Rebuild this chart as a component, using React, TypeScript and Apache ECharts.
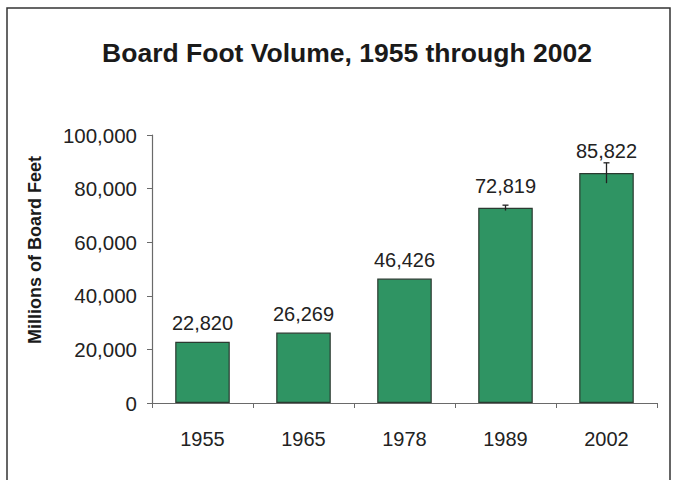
import React, { useEffect, useRef } from "react";
import * as echarts from "echarts";

const years = ["1955", "1965", "1978", "1989", "2002"];
const volumes = [22820, 26269, 46426, 72819, 85822];
const errors = [0, 0, 0, 1000, 3800];
const yTicks = { min: 0, max: 100000, interval: 20000 };
const titleText = "Board Foot Volume, 1955 through 2002";
const yAxisTitle = "Millions of Board Feet";

const FONT = "'Liberation Sans', Arial, sans-serif";

export default function App() {
  const ref = useRef<HTMLDivElement>(null);
  useEffect(() => {
    if (!ref.current) return;
    const chart = echarts.init(ref.current, null, { renderer: "svg" });
    const fmt = (v: number) => v.toLocaleString("en-US");
    chart.setOption({
      animation: false,
      backgroundColor: "#ffffff",
      textStyle: { fontFamily: FONT },
      title: {
        text: titleText,
        left: 342,
        textAlign: "center",
        top: 34,
        textStyle: { fontFamily: FONT, fontSize: 26.5, fontWeight: "bold", color: "#1a1a1a" },
      },
      grid: { left: 152, right: 22, top: 135, bottom: 77, containLabel: false },
      xAxis: {
        type: "category",
        data: years,
        axisLine: { lineStyle: { color: "#6a6a6a", width: 1.2 } },
        axisTick: { show: true, alignWithLabel: false, length: 5, lineStyle: { color: "#6a6a6a" } },
        axisLabel: { fontFamily: FONT, fontSize: 20, color: "#222", margin: 26 },
      },
      yAxis: {
        type: "value",
        min: yTicks.min,
        max: yTicks.max,
        interval: yTicks.interval,
        splitLine: { show: false },
        axisLine: { show: true, lineStyle: { color: "#6a6a6a", width: 1.2 } },
        axisTick: { show: true, length: 5, lineStyle: { color: "#6a6a6a" } },
        axisLabel: { fontFamily: FONT, fontSize: 20.5, color: "#222", margin: 15, formatter: fmt },
      },
      series: [
        {
          type: "bar",
          data: volumes.map((v, i) => ({
            value: v,
            label: { distance: errors[i] > 0 ? 12 : 9 },
          })),
          barWidth: "54%",
          itemStyle: { color: "#2f9463", borderColor: "#2b3a30", borderWidth: 1.2 },
          label: {
            show: true,
            position: "top",
            fontFamily: FONT,
            fontSize: 20,
            color: "#222",
            formatter: (p: any) => fmt(p.value),
          },
        },
        {
          type: "custom",
          data: volumes.map((v, i) => [i, v, errors[i]]),
          z: 5,
          renderItem: (params: any, api: any) => {
            const i = api.value(0);
            const v = api.value(1);
            const e = api.value(2);
            if (!e) return null;
            const top = api.coord([i, v + e]);
            const bot = api.coord([i, v - e]);
            const style = { stroke: "#222", lineWidth: 1.3 };
            return {
              type: "group",
              children: [
                { type: "line", shape: { x1: top[0], y1: top[1], x2: bot[0], y2: bot[1] }, style },
                { type: "line", shape: { x1: top[0] - 3, y1: top[1], x2: top[0] + 3, y2: top[1] }, style },
              ],
            };
          },
        },
      ],
      graphic: [
        {
          type: "rect",
          shape: { x: 7, y: 8, width: 663, height: 500 },
          style: { fill: "none", stroke: "#333", lineWidth: 1.5 },
          silent: true,
        },
        {
          type: "text",
          x: 35,
          y: 250,
          rotation: Math.PI / 2,
          style: {
            text: yAxisTitle,
            fontFamily: FONT,
            fontSize: 18,
            fontWeight: "bold",
            fill: "#1a1a1a",
            align: "center",
            verticalAlign: "middle",
          },
        },
      ],
    });
    return () => chart.dispose();
  }, []);
  return (
    <div
      ref={ref}
      style={{ position: "fixed", left: 0, top: 0, width: 679, height: 480, background: "#fff" }}
    />
  );
}
